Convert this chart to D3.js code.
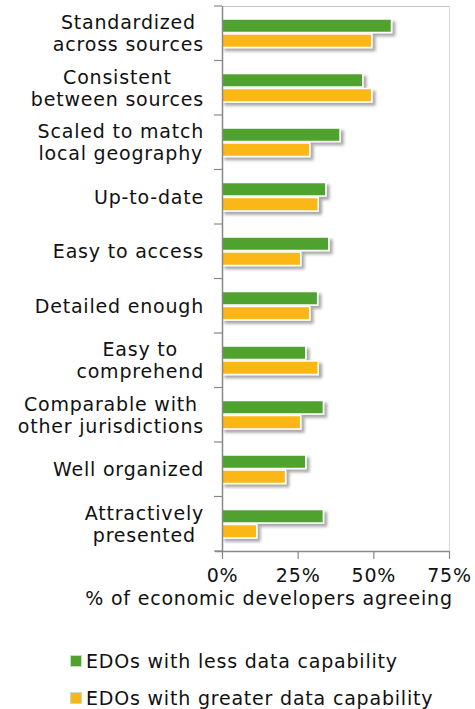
<!DOCTYPE html>
<html><head><meta charset="utf-8">
<script src="https://cdn.jsdelivr.net/npm/d3@7"></script>
<style>body{margin:0;background:#fff}svg{display:block}text{font-family:"DejaVu Sans",sans-serif;fill:#111;letter-spacing:0.8px}</style>
</head><body><svg id="c" width="475" height="709"></svg>
<script>
const categories = [
  ["Standardized","across sources"],
  ["Consistent","between sources"],
  ["Scaled to match","local geography"],
  ["Up-to-date"],
  ["Easy to access"],
  ["Detailed enough"],
  ["Easy to","comprehend"],
  ["Comparable with","other jurisdictions"],
  ["Well organized"],
  ["Attractively","presented"]
];
const seriesNames = ["EDOs with less data capability","EDOs with greater data capability"];
const lessValues = [56, 46.5, 39, 34.3, 35.3, 31.6, 27.7, 33.5, 27.7, 33.5];
const greaterValues = [49.5, 49.5, 29, 31.8, 26, 29, 31.8, 26, 21, 11.5];
const xTicks = [0, 25, 50, 75];
const colors = ["#4fa22e", "#fbb715"];

const svg = d3.select("#c");
const L = 222, R = 449, T = 6, B = 551;
const FS = 19;
const keys = categories.map(c => c.join(" "));
const x = d3.scaleLinear().domain([0, 75]).range([L, R]);
const y = d3.scaleBand().domain(keys).range([T, B]).paddingInner(0.45).paddingOuter(0.225);
const ys = d3.scaleBand().domain([0,1]).range([0, y.bandwidth()]);

const defs = svg.append("defs");
const f = defs.append("filter").attr("id","sh").attr("x","-10%").attr("y","-30%").attr("width","130%").attr("height","180%");
f.append("feDropShadow").attr("dx",3).attr("dy",3).attr("stdDeviation",1.8).attr("flood-color","#000").attr("flood-opacity",0.35);

// frame
svg.append("line").attr("x1",L).attr("x2",R).attr("y1",T+0.5).attr("y2",T+0.5).attr("stroke","#c8c8c8");
svg.append("line").attr("x1",R+0.5).attr("x2",R+0.5).attr("y1",T).attr("y2",B).attr("stroke","#d8d8d8");

// bars
const data = keys.map((k,i)=>({k, v:[lessValues[i], greaterValues[i]]}));
const g = svg.append("g");
data.forEach(d => {
  d.v.forEach((v,j) => {
    g.append("rect")
      .attr("x", x(0))
      .attr("y", y(d.k) + ys(j) + 0.75)
      .attr("width", x(v) - x(0))
      .attr("height", ys.bandwidth() - 1.5)
      .attr("fill", colors[j])
      .attr("stroke", "#fff").attr("stroke-width", 1.5)
      .attr("filter","url(#sh)");
  });
});

// left axis with ticks at band boundaries
const step = y.step();
const bounds = [T].concat(keys.map(k => y(k) + y.bandwidth() + step*y.paddingInner()/2));
bounds[bounds.length-1] = B;
const ax = svg.append("g");
ax.append("line").attr("x1",L+0.5).attr("x2",L+0.5).attr("y1",T).attr("y2",B).attr("stroke","#888").attr("stroke-width",1.5);
bounds.forEach(b => ax.append("line").attr("x1",L-8).attr("x2",L).attr("y1",b).attr("y2",b).attr("stroke","#888").attr("stroke-width",1.2));

// category labels: block centered, right edge at labelRight
const labelRight = 204;
categories.forEach((c,i) => {
  const cy = y(keys[i]) + y.bandwidth()/2;
  const lh = 22;
  const t = svg.append("text").attr("text-anchor","middle").attr("font-size",FS);
  const spans = c.map((line, li) =>
    t.append("tspan").attr("y", cy + (li - (c.length-1)/2)*lh + 7).text(line));
  const w = d3.max(spans, s => s.node().getComputedTextLength());
  spans.forEach(s => s.attr("x", labelRight - w/2));
});

// bottom axis
const xa = svg.append("g").attr("transform",`translate(0,${B})`)
  .call(d3.axisBottom(x).tickValues(xTicks).tickFormat(d => d + "%").tickSize(8));
xa.select(".domain").remove();
xa.append("line").attr("x1",215).attr("x2",R).attr("y1",0.5).attr("y2",0.5).attr("stroke","#888").attr("stroke-width",1.5);
xa.selectAll(".tick line").attr("stroke","#888").attr("stroke-width",1.2);
xa.selectAll(".tick text").attr("font-size",FS).attr("fill","#111").attr("dy",null).attr("y",31)
  .style("font-family","'DejaVu Sans',sans-serif");

svg.append("text").attr("x", 269).attr("y", 605).attr("text-anchor","middle").attr("font-size",FS).text("% of economic developers agreeing");

// legend
seriesNames.forEach((s,i) => {
  const ly = 661 + i*37;
  svg.append("rect").attr("x",70.5).attr("y",ly-5.5).attr("width",11).attr("height",11).attr("fill",colors[i]).attr("stroke","#c9dcc0").attr("stroke-width",1);
  svg.append("text").attr("x",86).attr("y",ly+7).attr("font-size",FS).text(s);
});
</script></body></html>
